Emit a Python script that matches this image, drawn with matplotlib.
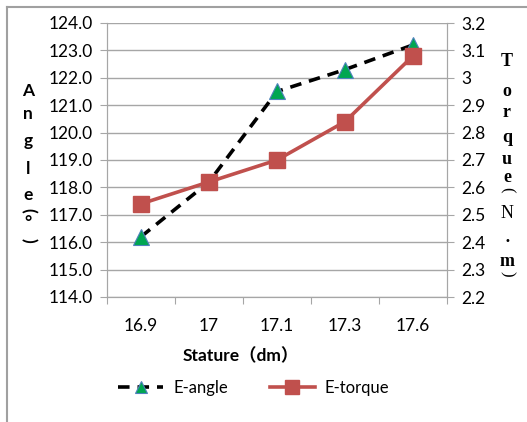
import matplotlib
matplotlib.use("Agg")
import matplotlib.pyplot as plt
from matplotlib.lines import Line2D

categories = ["16.9", "17", "17.1", "17.3", "17.6"]
angle = [116.2, 118.2, 121.5, 122.3, 123.2]
torque = [2.54, 2.62, 2.70, 2.84, 3.08]
left_ticks = [114.0, 115.0, 116.0, 117.0, 118.0, 119.0, 120.0, 121.0, 122.0, 123.0, 124.0]
right_ticks = [2.2, 2.3, 2.4, 2.5, 2.6, 2.7, 2.8, 2.9, 3.0, 3.1, 3.2]
right_labels = ["2.2", "2.3", "2.4", "2.5", "2.6", "2.7", "2.8", "2.9", "3", "3.1", "3.2"]

W, H = 527, 422
fig = plt.figure(figsize=(W / 100, H / 100), dpi=100)
FONT = ["Lato", "Noto Sans CJK SC", "DejaVu Sans"]
plt.rcParams['font.family'] = FONT
TS = 12.5

ax = fig.add_axes([107 / W, 1 - 297 / H, 340 / W, 274 / H])
ax2 = ax.twinx()

grid_c = "#a6a6a6"
x = list(range(len(categories)))

ax.set_xlim(-0.5, len(categories) - 0.5)
ax.set_ylim(114, 124)
ax.set_yticks(left_ticks)
ax.set_yticklabels([f"{v:.1f}" for v in left_ticks])
ax.yaxis.grid(True, color=grid_c, lw=1)
ax.set_axisbelow(True)
ax.set_xticks([i - 0.5 for i in range(len(categories) + 1)])
ax.set_xticklabels([])
ax.set_xticks(x, minor=True)
ax.set_xticklabels(categories, minor=True)
ax.tick_params(axis='x', which='minor', length=0, pad=15, labelsize=TS)
ax.tick_params(axis='x', which='major', length=5, color=grid_c, direction='out')
ax.tick_params(axis='y', length=5, color=grid_c, labelsize=TS, pad=5)

ax2.set_ylim(2.2, 3.2)
ax2.set_yticks(right_ticks)
ax2.set_yticklabels(right_labels)
ax2.tick_params(axis='y', length=5, color=grid_c, labelsize=TS, pad=5)

for a in (ax, ax2):
    for s in ['left', 'right', 'bottom']:
        a.spines[s].set_color(grid_c)
    a.spines['top'].set_visible(False)

l1, = ax.plot(x, angle, color="black", lw=2.6, dashes=(3.2, 2.2),
              marker="^", ms=11, mfc="#00a651", mec="#4f81bd", mew=0.8,
              label="E-angle", zorder=3)
l2, = ax2.plot(x, torque, color="#c0504d", lw=2.6, marker="s", ms=12,
               mfc="#c0504d", mec="#c0504d", label="E-torque", zorder=4)

ax.set_zorder(ax2.get_zorder() - 1)
ax2.patch.set_visible(False)

fig.text(241 / W, 1 - 356 / H, "Stature（dm）", ha='center', va='center',
         fontsize=12.5, fontweight='bold', family=FONT)

left_chars = [("A", 91), ("n", 114), ("g", 141), ("l", 169), ("e", 195)]
for ch, yy in left_chars:
    fig.text(28 / W, 1 - yy / H, ch, ha='center', va='center', fontsize=12.5,
             fontweight='bold', family=FONT)
fig.text(28 / W, 1 - 210 / H, "(", ha='center', va='center', fontsize=12.5,
         fontweight='bold', family=FONT, rotation=-90)
fig.text(28 / W, 1 - 223 / H, "°", ha='center', va='center', fontsize=12.5,
         fontweight='bold', family=FONT)
fig.text(28 / W, 1 - 240 / H, ")", ha='center', va='center', fontsize=12.5,
         fontweight='bold', family=FONT, rotation=-90)

SERIF = ["Liberation Serif", "DejaVu Serif"]
right_chars = [("T", 62, 'bold'), ("o", 92, 'bold'), ("r", 112, 'bold'), ("q", 138, 'bold'),
               ("u", 160, 'bold'), ("e", 178, 'bold'), ("N", 213, 'normal'),
               ("·", 242, 'bold'), ("m", 262, 'bold')]
for ch, yy, wt in right_chars:
    fig.text(507 / W, 1 - yy / H, ch, ha='center', va='center', fontsize=13,
             fontweight=wt, family=SERIF)
fig.text(507 / W, 1 - 190 / H, "(", ha='center', va='center', fontsize=12,
         family=SERIF, rotation=-90)
fig.text(507 / W, 1 - 274 / H, ")", ha='center', va='center', fontsize=12,
         family=SERIF, rotation=-90)

fig.legend(handles=[l1, l2], loc='center', bbox_to_anchor=(254 / W, 1 - 388 / H),
           ncol=2, frameon=False, fontsize=12, handlelength=2.7, columnspacing=2.5,
           handletextpad=0.6, markerscale=0.85)

fig.add_artist(Line2D([7 / W, 7 / W], [0, 1 - 7 / H], color="#a0a0a0", lw=1.5))
fig.add_artist(Line2D([7 / W, 1], [1 - 7 / H, 1 - 7 / H], color="#a0a0a0", lw=1.5))

fig.savefig("out.png", dpi=100, facecolor="white")
